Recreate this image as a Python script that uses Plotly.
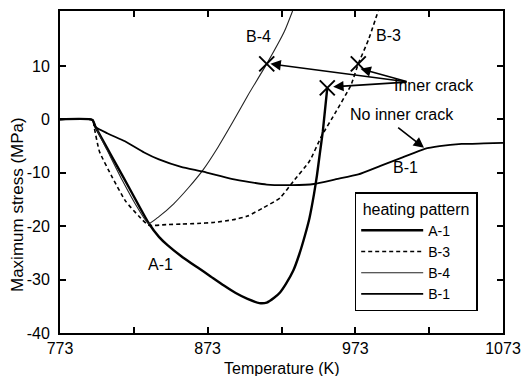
import plotly.graph_objects as go

# ---------------- data ----------------
a1_T = [773, 795, 797, 810, 820, 833, 840, 846, 856, 866, 875, 884, 892, 900, 908, 913, 918, 922, 926, 931, 935, 939, 942, 945, 947, 949, 951, 954]
a1_S = [0, -0.1, -1.4, -7.9, -12.9, -19.4, -22.0, -23.6, -25.8, -27.7, -29.4, -31.1, -32.5, -33.6, -34.4, -34.3, -33.4, -32.4, -30.8, -28.3, -25.3, -21.6, -18.4, -14.0, -10.5, -6.3, -2.2, 5.9]

b3_T = [773, 795, 796.3, 799.7, 808.5, 817.4, 826.3, 833, 845, 855, 866, 877, 890, 900, 911, 922, 931, 942, 950, 960, 970, 975, 982, 988.5]
b3_S = [0, -0.1, -1.7, -6.0, -10.9, -15.3, -18.1, -19.8, -19.7, -19.6, -19.5, -19.3, -18.8, -18.1, -16.5, -14.7, -11.6, -7.8, -3.2, 1.5, 6.4, 10.4, 15.0, 20.3]

b4_T = [773, 795, 797, 805, 815, 825, 833, 840, 850, 860, 870, 880, 890, 900, 913, 925, 930.5]
b4_S = [0, -0.1, -1.4, -5.8, -11.3, -16.3, -19.5, -18.2, -15.8, -12.8, -9.4, -5.2, -0.5, 4.4, 10.4, 16.5, 20.3]

b1_T = [773, 795, 797, 805, 817, 830, 840, 855, 870, 890, 913, 930, 945, 960, 975, 990, 1005, 1020, 1030, 1045, 1060, 1073]
b1_S = [0, -0.1, -1.4, -2.6, -4.1, -6.2, -7.5, -8.9, -9.8, -11.2, -12.2, -12.3, -12.1, -11.2, -10.3, -8.7, -7.1, -5.5, -5.0, -4.6, -4.5, -4.4]

crack_T = [913, 954, 975]          # inner-crack points: B-4, A-1, B-3
crack_S = [10.4, 5.9, 10.4]

x_tickvals = [773, 823, 873, 923, 973, 1023, 1073]
x_ticktext = ["773", "", "873", "", "973", "", "1073"]
y_tickvals = [-40, -30, -20, -10, 0, 10]
y_ticktext = ["-40", "-30", "-20", "-10", "0", "10"]

FONT = "Liberation Sans, Arial, Helvetica, sans-serif"

fig = go.Figure()
fig.add_trace(go.Scatter(x=a1_T, y=a1_S, mode="lines", name="A-1",
                         line=dict(color="black", width=2.4, shape="spline", smoothing=0.5)))
fig.add_trace(go.Scatter(x=b3_T, y=b3_S, mode="lines", name="B-3",
                         line=dict(color="black", width=1.6, dash="4px,3px", shape="spline", smoothing=0.5)))
fig.add_trace(go.Scatter(x=b4_T, y=b4_S, mode="lines", name="B-4",
                         line=dict(color="#222", width=1.1, shape="spline", smoothing=0.5)))
fig.add_trace(go.Scatter(x=b1_T, y=b1_S, mode="lines", name="B-1",
                         line=dict(color="black", width=1.8, shape="spline", smoothing=0.5)))
fig.add_trace(go.Scatter(x=crack_T, y=crack_S, mode="markers", showlegend=False,
                         marker=dict(symbol="x-thin", size=15, color="black",
                                     line=dict(color="black", width=2))))

# text labels
labels = [
    ("B-4", 907.5, 15.6),
    ("B-3", 995.5, 15.8),
    ("A-1", 841, -27.2),
    ("B-1", 1007, -9.0),
]
for txt, tx, ty in labels:
    fig.add_annotation(x=tx, y=ty, text=txt, showarrow=False,
                       font=dict(size=16, color="black", family=FONT))

fig.add_annotation(x=997.5, y=6.3, text="Inner crack", showarrow=False, xanchor="left",
                   font=dict(size=16, color="black", family=FONT))
fig.add_annotation(x=1004.7, y=0.85, text="No inner crack", showarrow=False,
                   font=dict(size=16, color="black", family=FONT))

# arrows from "Inner crack" to the crack points
tail = (1008.7, 7.0)
heads = [(915.5, 10.4), (958, 6.1), (976.5, 9.5)]
for hx, hy in heads:
    fig.add_annotation(x=hx, y=hy, ax=tail[0], ay=tail[1], axref="x", ayref="y",
                       xref="x", yref="y", text="", showarrow=True,
                       arrowhead=2, arrowsize=1.3, arrowwidth=1.6, arrowcolor="black")
# arrow for "No inner crack"
fig.add_annotation(x=1019.5, y=-5.3, ax=1001, ay=-1.3, axref="x", ayref="y",
                   xref="x", yref="y", text="", showarrow=True,
                   arrowhead=2, arrowsize=1.3, arrowwidth=1.6, arrowcolor="black")

fig.update_layout(
    width=530, height=376,
    margin=dict(l=60, r=20, t=9, b=43),
    paper_bgcolor="white", plot_bgcolor="white",
    font=dict(family=FONT, size=16, color="black"),
    showlegend=True,
    legend=dict(
        title=dict(text="\u00a0heating pattern\u00a0", font=dict(size=16, family=FONT)),
        x=0.665, y=0.437, xanchor="left", yanchor="top",
        bordercolor="black", borderwidth=1.6, bgcolor="white",
        font=dict(size=14, family=FONT), tracegroupgap=0, itemwidth=62,
    ),
    xaxis=dict(range=[773, 1073], tickvals=x_tickvals, ticktext=x_ticktext,
               ticks="inside", ticklen=6, tickwidth=1.5, tickcolor="black",
               showline=True, linecolor="black", linewidth=1.8, mirror="ticks",
               showgrid=False, zeroline=False,
               tickfont=dict(size=16, family=FONT)),
    yaxis=dict(range=[-40, 20.3], tickvals=y_tickvals, ticktext=y_ticktext,
               ticks="inside", ticklen=6, tickwidth=1.5, tickcolor="black",
               showline=True, linecolor="black", linewidth=1.8, mirror="ticks",
               showgrid=False, zeroline=False, ticklabelstandoff=5,
               tickfont=dict(size=16, family=FONT)),
)

fig.add_annotation(x=0.5, y=0.0, xref="paper", yref="paper", yshift=-35,
                   text="Temperature (K)", showarrow=False, yanchor="middle",
                   font=dict(size=16, family=FONT))
fig.add_annotation(x=0.0, y=0.0, xref="paper", yref="paper", xshift=-43, yshift=128,
                   text="Maximum stress (MPa)", showarrow=False, textangle=-90,
                   xanchor="center", yanchor="middle",
                   font=dict(size=17, family=FONT))

fig.write_html("out.html")
